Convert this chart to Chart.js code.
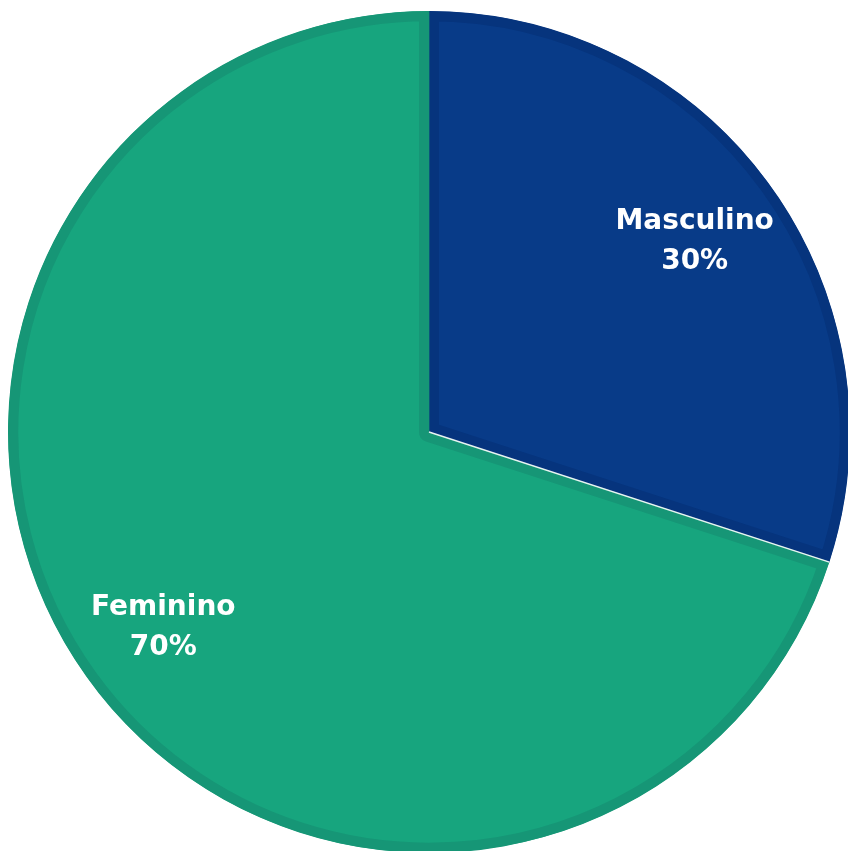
<!DOCTYPE html>
<html>
<head>
<meta charset="utf-8">
<script src="https://cdn.jsdelivr.net/npm/chart.js@4/dist/chart.umd.min.js"></script>
<style>
    html, body { margin: 0; padding: 0; background: #ffffff; overflow: hidden; }
    #wrap { position: absolute; left: 8px; top: 11px; width: 842px; height: 842px; }
</style>
</head>
<body>
<div id="wrap"><canvas id="pieChart" width="842" height="842"></canvas></div>
<script>
// Datos del gráfico
const categorias = ['Masculino', 'Feminino'];
const porcentajes = [30, 70];
const coloresRelleno = ['#083b88', '#17a57e'];
const coloresBorde = ['#06347d', '#169676'];

// Etiquetas dentro de cada porción (nombre + porcentaje)
const etiquetasPlugin = {
    id: 'etiquetas',
    afterDatasetsDraw(chart) {
        const ctx = chart.ctx;
        const meta = chart.getDatasetMeta(0);
        // línea blanca fina entre Masculino y Feminino
        const a0 = meta.data[0];
        ctx.save();
        ctx.strokeStyle = 'rgba(255,255,255,0.9)';
        ctx.lineWidth = 1.5;
        ctx.beginPath();
        ctx.moveTo(a0.x, a0.y);
        ctx.lineTo(a0.x + Math.cos(a0.endAngle) * a0.outerRadius, a0.y + Math.sin(a0.endAngle) * a0.outerRadius);
        ctx.stroke();
        ctx.restore();

        meta.data.forEach((arc, i) => {
            const mid = (arc.startAngle + arc.endAngle) / 2;
            const r = arc.outerRadius * 0.78;
            const x = arc.x + Math.cos(mid) * r;
            const y = arc.y + Math.sin(mid) * r;
            ctx.save();
            ctx.fillStyle = '#ffffff';
            ctx.font = 'bold 28px "DejaVu Sans", sans-serif';
            ctx.textAlign = 'center';
            ctx.textBaseline = 'middle';
            ctx.fillText(categorias[i], x, y - 17);
            ctx.fillText(porcentajes[i] + '%', x, y + 23);
            ctx.restore();
        });
    }
};

const chart = new Chart(document.getElementById('pieChart').getContext('2d'), {
    type: 'pie',
    data: {
        labels: categorias,
        datasets: [{
            data: porcentajes,
            backgroundColor: coloresRelleno,
            borderColor: coloresBorde,
            borderWidth: 10,
            borderAlign: 'inner'
        }]
    },
    options: {
        responsive: false,
        animation: false,
        layout: { padding: 0 },
        plugins: {
            legend: { display: false },
            tooltip: { enabled: false }
        }
    },
    plugins: [etiquetasPlugin]
});
</script>
</body>
</html>
